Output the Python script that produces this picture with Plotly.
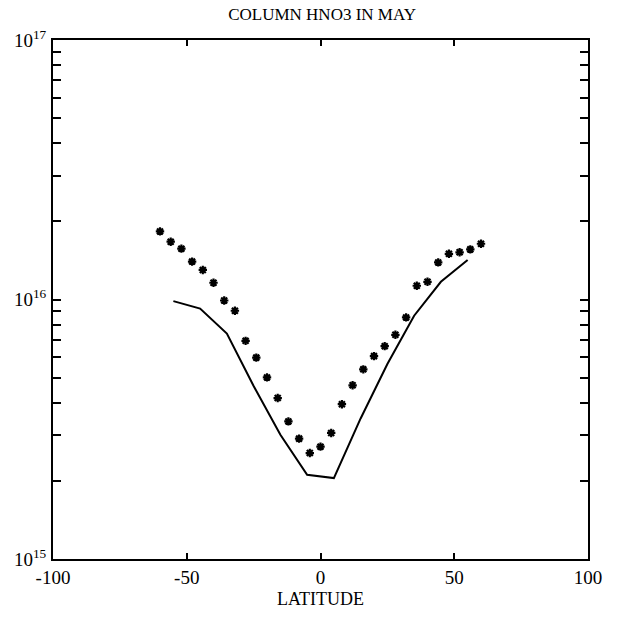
import plotly.graph_objects as go

# Observations (asterisks)
obs_lat = [-60, -56, -52, -48, -44, -40, -36, -32, -28, -24, -20, -16, -12, -8, -4,
           0, 4, 8, 12, 16, 20, 24, 28, 32, 36, 40, 44, 48, 52, 56, 60]
obs_col = [1.83e16, 1.67e16, 1.57e16, 1.40e16, 1.30e16, 1.16e16, 9.91e15, 9.05e15,
           6.93e15, 5.97e15, 5.01e15, 4.17e15, 3.39e15, 2.91e15, 2.56e15,
           2.71e15, 3.06e15, 3.95e15, 4.67e15, 5.38e15, 6.05e15, 6.61e15, 7.31e15,
           8.53e15, 1.13e16, 1.17e16, 1.39e16, 1.50e16, 1.52e16, 1.56e16, 1.64e16]

# Model (solid line)
mod_lat = [-55, -45, -35, -25, -15, -5, 5, 15, 25, 35, 45, 55]
mod_col = [9.86e15, 9.23e15, 7.39e15, 4.64e15, 3.01e15, 2.11e15, 2.05e15,
           3.48e15, 5.64e15, 8.66e15, 1.17e16, 1.42e16]

x_ticks = [-100, -50, 0, 50, 100]
x_tick_text = ["-100", "-50", "0", "50", "100"]
y_ticks = [1e15, 1e16, 1e17]
y_tick_text = ["10<sup>15</sup>", "10<sup>16</sup>", "10<sup>17</sup>"]
y_minor = [k * 10 ** e for e in (15, 16) for k in range(2, 10)]

title = "COLUMN HNO3 IN MAY"
x_title = "LATITUDE"

FONT = "Liberation Serif, Times New Roman, serif"

fig = go.Figure()
fig.add_trace(go.Scatter(
    x=mod_lat, y=mod_col, mode="lines",
    line=dict(color="black", width=2), showlegend=False,
))
fig.add_trace(go.Scatter(
    x=obs_lat, y=obs_col, mode="markers",
    marker=dict(symbol="asterisk-open", size=7, color="black",
                line=dict(color="black", width=2.2)),
    showlegend=False,
))

fig.update_layout(
    width=617, height=618,
    margin=dict(l=53, r=29, t=40, b=54),
    paper_bgcolor="white", plot_bgcolor="white",
    font=dict(family=FONT, size=18, color="black"),
    title=dict(text=title, x=0.522, xanchor="center", y=0.977, yanchor="middle",
               font=dict(family=FONT, size=17, color="black")),
)
fig.update_xaxes(
    range=[-100, 100], tickmode="array", tickvals=x_ticks, ticktext=x_tick_text,
    ticks="inside", ticklen=6, tickwidth=1.5, tickcolor="black",
    showline=True, linecolor="black", linewidth=2, mirror="ticks",
    showgrid=False, zeroline=False,
    title=dict(text=x_title, standoff=6, font=dict(family=FONT, size=18)),
    tickfont=dict(family=FONT, size=19),
)
fig.update_yaxes(
    type="log", range=[15, 17], tickmode="array", tickvals=y_ticks,
    ticktext=y_tick_text,
    ticks="inside", ticklen=8, tickwidth=1.5, tickcolor="black",
    showline=True, linecolor="black", linewidth=2, mirror="ticks",
    showgrid=False, zeroline=False,
    minor=dict(tickmode="array", tickvals=y_minor, ticks="inside",
               ticklen=8, tickwidth=1.5, tickcolor="black", showgrid=False),
    tickfont=dict(family=FONT, size=19),
    ticklabelstandoff=1,
)

fig.write_html("out.html")
